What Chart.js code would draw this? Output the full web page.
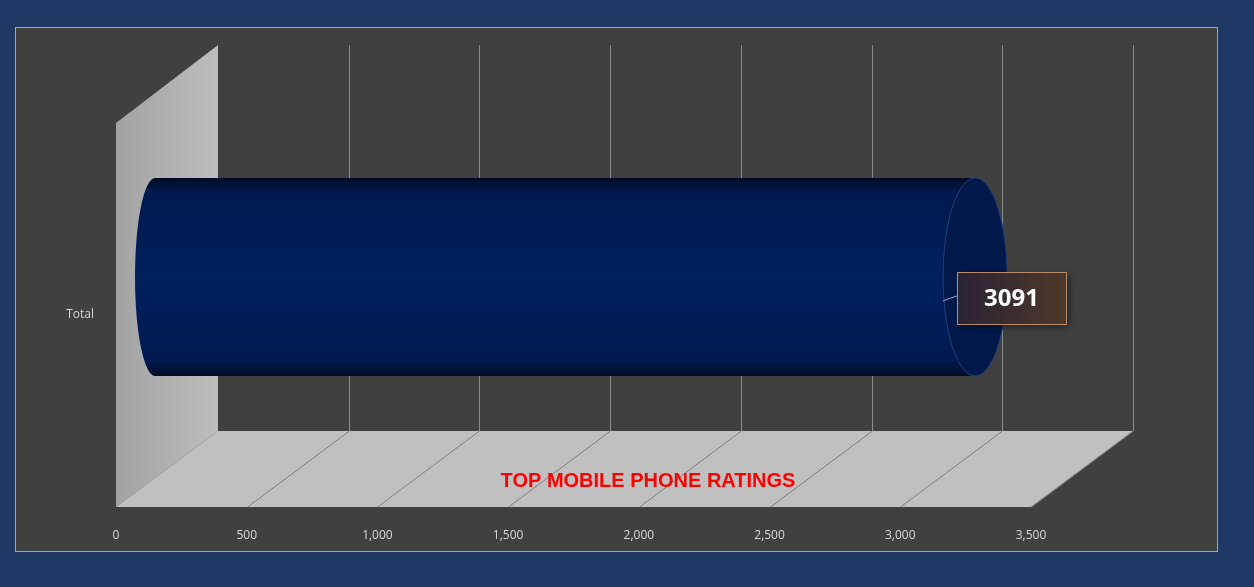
<!DOCTYPE html>
<html>
<head>
<meta charset="utf-8">
<script src="https://cdn.jsdelivr.net/npm/chart.js@4/dist/chart.umd.min.js"></script>
<style>
  html, body { margin: 0; padding: 0; background: #1f3864; }
  #wrap { position: absolute; left: 0; top: 0; width: 1254px; height: 587px; }
</style>
</head>
<body>
<div id="wrap"><canvas id="chart"></canvas></div>
<script>
const categories = ['Total'];
const ratings = [3091];
const chartTitle = 'TOP MOBILE PHONE RATINGS';

// depth of the 3D box, front plane -> back wall
const DX = 102, DY = 76;

const scene3d = {
    id: 'scene3d',
    beforeDraw(chart) {
        const ctx = chart.ctx;
        ctx.save();
        ctx.fillStyle = '#1f3864';
        ctx.fillRect(0, 0, chart.width, chart.height);
        ctx.fillStyle = '#404040';
        ctx.fillRect(15, 27, 1202, 524);
        ctx.strokeStyle = '#a6a6a6';
        ctx.lineWidth = 1;
        ctx.strokeRect(15.5, 27.5, 1202, 524);
        ctx.restore();
    },
    beforeDatasetsDraw(chart) {
        const ctx = chart.ctx;
        const xs = chart.scales.x, a = chart.chartArea;
        const L = xs.getPixelForValue(0), R = xs.getPixelForValue(3500);
        const top = a.top, bot = a.bottom;
        ctx.save();
        // left wall
        const g = ctx.createLinearGradient(L, 0, L + DX, 0);
        g.addColorStop(0, '#a3a3a3');
        g.addColorStop(1, '#bdbdbd');
        ctx.fillStyle = g;
        ctx.beginPath();
        ctx.moveTo(L, top); ctx.lineTo(L + DX, top - DY - 2);
        ctx.lineTo(L + DX, bot - DY); ctx.lineTo(L, bot);
        ctx.closePath(); ctx.fill();
        // floor
        ctx.fillStyle = '#c0c0c0';
        ctx.beginPath();
        ctx.moveTo(L, bot); ctx.lineTo(L + DX, bot - DY);
        ctx.lineTo(R + DX, bot - DY); ctx.lineTo(R, bot);
        ctx.closePath(); ctx.fill();
        // grid lines on back wall and floor
        ctx.lineWidth = 1;
        for (let v = 500; v <= 3500; v += 500) {
            const x = Math.round(xs.getPixelForValue(v)) + 0.5;
            ctx.strokeStyle = '#8c8c8c';
            ctx.beginPath();
            ctx.moveTo(x + DX, 45); ctx.lineTo(x + DX, bot - DY);
            ctx.stroke();
            ctx.strokeStyle = '#7f7f7f';
            ctx.beginPath();
            ctx.moveTo(x + DX, bot - DY); ctx.lineTo(x, bot);
            ctx.stroke();
        }
        ctx.fillStyle = '#ff0000';
        ctx.font = 'bold 20px "Liberation Sans", Arial, sans-serif';
        ctx.textAlign = 'center';
        ctx.textBaseline = 'middle';
        ctx.fillText(chartTitle, 648, 481);
        ctx.restore();
    },
    afterDatasetsDraw(chart) {
        const ctx = chart.ctx;
        const xs = chart.scales.x;
        const meta = chart.getDatasetMeta(0);
        ctx.save();
        meta.data.forEach((bar, i) => {
            const cy = bar.y - DY / 2;
            const ry = 99;
            const x0 = xs.getPixelForValue(0) + DX / 2 - 12;
            const x1 = xs.getPixelForValue(ratings[i]) + DX / 2;
            const g = ctx.createLinearGradient(0, cy - ry, 0, cy + ry);
            g.addColorStop(0, '#000c24');
            g.addColorStop(0.08, '#001a50');
            g.addColorStop(0.5, '#00205e');
            g.addColorStop(0.92, '#001a50');
            g.addColorStop(1, '#000c24');
            ctx.fillStyle = g;
            ctx.beginPath();
            ctx.ellipse(x0, cy, 20, ry, 0, Math.PI / 2, Math.PI * 1.5);
            ctx.lineTo(x1, cy - ry);
            ctx.ellipse(x1, cy, 32, ry, 0, -Math.PI / 2, Math.PI / 2, true);
            ctx.closePath();
            ctx.fill();
            // end cap
            ctx.fillStyle = '#00194a';
            ctx.strokeStyle = '#1d3d7c';
            ctx.lineWidth = 1;
            ctx.beginPath();
            ctx.ellipse(x1, cy, 32, ry, 0, 0, Math.PI * 2);
            ctx.fill(); ctx.stroke();
            // data label
            const bx = 957, by = 272, bw = 109, bh = 52;
            ctx.strokeStyle = '#9fb0d0';
            ctx.beginPath();
            ctx.moveTo(x1 - 32, cy + 24);
            ctx.quadraticCurveTo(x1 - 28, cy + 22, bx, by + 24);
            ctx.stroke();
            ctx.shadowColor = 'rgba(0,0,0,0.5)';
            ctx.shadowBlur = 8; ctx.shadowOffsetX = 3; ctx.shadowOffsetY = 3;
            const lg = ctx.createLinearGradient(bx, 0, bx + bw, 0);
            lg.addColorStop(0, '#2a2236');
            lg.addColorStop(1, '#4d3828');
            ctx.fillStyle = lg;
            ctx.fillRect(bx, by, bw, bh);
            ctx.shadowColor = 'transparent';
            ctx.strokeStyle = '#b98d6c';
            ctx.strokeRect(bx + 0.5, by + 0.5, bw, bh);
            ctx.fillStyle = '#ffffff';
            ctx.font = 'bold 24px "Open Sans", "DejaVu Sans", sans-serif';
            ctx.textAlign = 'center';
            ctx.textBaseline = 'middle';
            ctx.fillText(String(ratings[i]), bx + bw / 2, by + bh / 2 + 1);
        });
        ctx.restore();
    }
};

new Chart(document.getElementById('chart'), {
    type: 'bar',
    data: {
        labels: categories,
        datasets: [{
            label: 'Total',
            data: ratings,
            backgroundColor: 'rgba(0,0,0,0)',
            borderWidth: 0
        }]
    },
    options: {
        indexAxis: 'y',
        responsive: true,
        maintainAspectRatio: false,
        animation: false,
        events: [],
        layout: { padding: { left: 0, top: 123, right: 223, bottom: 0 } },
        plugins: { legend: { display: false }, tooltip: { enabled: false } },
        scales: {
            x: {
                min: 0, max: 3500,
                ticks: { stepSize: 500, color: '#d9d9d9', padding: 13, font: { size: 12, family: '"Open Sans", sans-serif' } },
                grid: { display: false },
                border: { display: false },
                afterFit(s) { s.height = 80; }
            },
            y: {
                ticks: { color: '#d9d9d9', padding: 14, font: { size: 12, family: '"Open Sans", sans-serif' } },
                grid: { display: false },
                border: { display: false },
                afterFit(s) { s.width = 116; }
            }
        }
    },
    plugins: [scene3d]
});
</script>
</body>
</html>
